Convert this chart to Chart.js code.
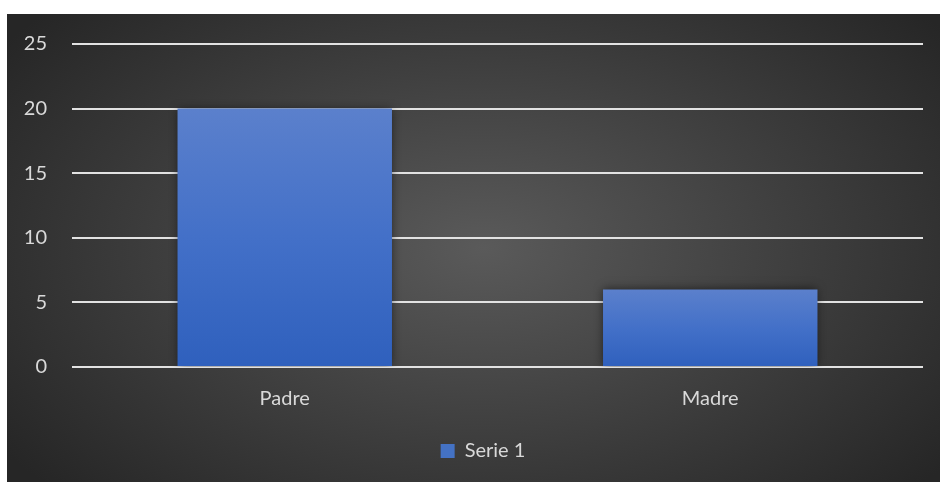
<!DOCTYPE html>
<html>
<head>
<meta charset="utf-8">
<script src="https://cdn.jsdelivr.net/npm/chart.js@4.4.1/dist/chart.umd.min.js"></script>
<style>
  html, body { margin: 0; padding: 0; background: #ffffff; overflow: hidden; }
  #box {
    position: absolute; left: 7px; top: 14px; width: 952px; height: 468px; overflow: hidden;
    background: radial-gradient(ellipse 62% 75% at 50% 50%, #5a5a5a 0%, #262626 100%);
  }
  #chart { display: block; }
</style>
</head>
<body>
<div id="box"><canvas id="chart" width="952" height="468"></canvas></div>
<script>
const categories = ['Padre', 'Madre'];
const serie1 = [20, 6];
const yTicks = [0, 5, 10, 15, 20, 25];

const textColor = '#d9d9d9';
const fontFamily = 'Lato, "Open Sans", sans-serif';

// gradiente por barra, de arriba (claro) a abajo (oscuro)
function barGradient(ctx) {
    const chart = ctx.chart;
    if (!chart.chartArea || ctx.type !== 'data') return '#4472c4';
    const y = chart.scales.y;
    const top = y.getPixelForValue(ctx.raw);
    const base = y.getPixelForValue(0);
    const g = chart.ctx.createLinearGradient(0, top, 0, base);
    g.addColorStop(0, '#5b80cc');
    g.addColorStop(0.5, '#4370c8');
    g.addColorStop(1, '#2f60bd');
    return g;
}

const shadowPlugin = {
    id: 'barShadow',
    beforeDatasetDraw(chart) {
        const c = chart.ctx;
        c.save();
        c.shadowColor = 'rgba(0,0,0,0.55)';
        c.shadowBlur = 9;
        c.shadowOffsetX = 0;
        c.shadowOffsetY = 0;
    },
    afterDatasetDraw(chart) {
        chart.ctx.restore();
    }
};

new Chart(document.getElementById('chart'), {
    type: 'bar',
    data: {
        labels: categories,
        datasets: [{
            label: 'Serie 1',
            data: serie1,
            backgroundColor: barGradient,
            borderWidth: 0,
            categoryPercentage: 0.504,
            barPercentage: 1
        }]
    },
    options: {
        responsive: false,
        animation: false,
        devicePixelRatio: 1,
        layout: { padding: { left: 0, right: 0, top: 30, bottom: 11 } },
        scales: {
            x: {
                grid: { display: false },
                border: { display: false },
                ticks: { color: textColor, font: { family: fontFamily, size: 20 }, padding: 12 }
            },
            y: {
                min: 0,
                max: 25,
                afterBuildTicks(scale) { scale.ticks = yTicks.map(v => ({ value: v })); },
                afterFit(scale) {
                    scale.width = 65;
                    scale.paddingTop = 0;
                    scale.paddingBottom = 0;
                },
                grid: { color: '#e2e2e2', lineWidth: 2, drawTicks: false },
                border: { display: false },
                ticks: { color: textColor, font: { family: fontFamily, size: 20 }, padding: 25 }
            },
            // eje vacío a la derecha, solo para reservar margen
            yRight: {
                position: 'right',
                min: 0,
                max: 25,
                afterFit(scale) {
                    scale.width = 36;
                    scale.paddingTop = 0;
                    scale.paddingBottom = 0;
                },
                grid: { display: false },
                border: { display: false },
                ticks: { display: false }
            }
        },
        plugins: {
            legend: {
                position: 'bottom',
                labels: {
                    color: textColor,
                    font: { family: fontFamily, size: 20 },
                    boxWidth: 14,
                    boxHeight: 14,
                    padding: 18,
                    generateLabels() {
                        return [{ text: 'Serie 1', fillStyle: '#4472c4', strokeStyle: '#4472c4', lineWidth: 0, fontColor: textColor }];
                    }
                }
            },
            tooltip: { enabled: false }
        }
    },
    plugins: [shadowPlugin]
});
</script>
</body>
</html>
